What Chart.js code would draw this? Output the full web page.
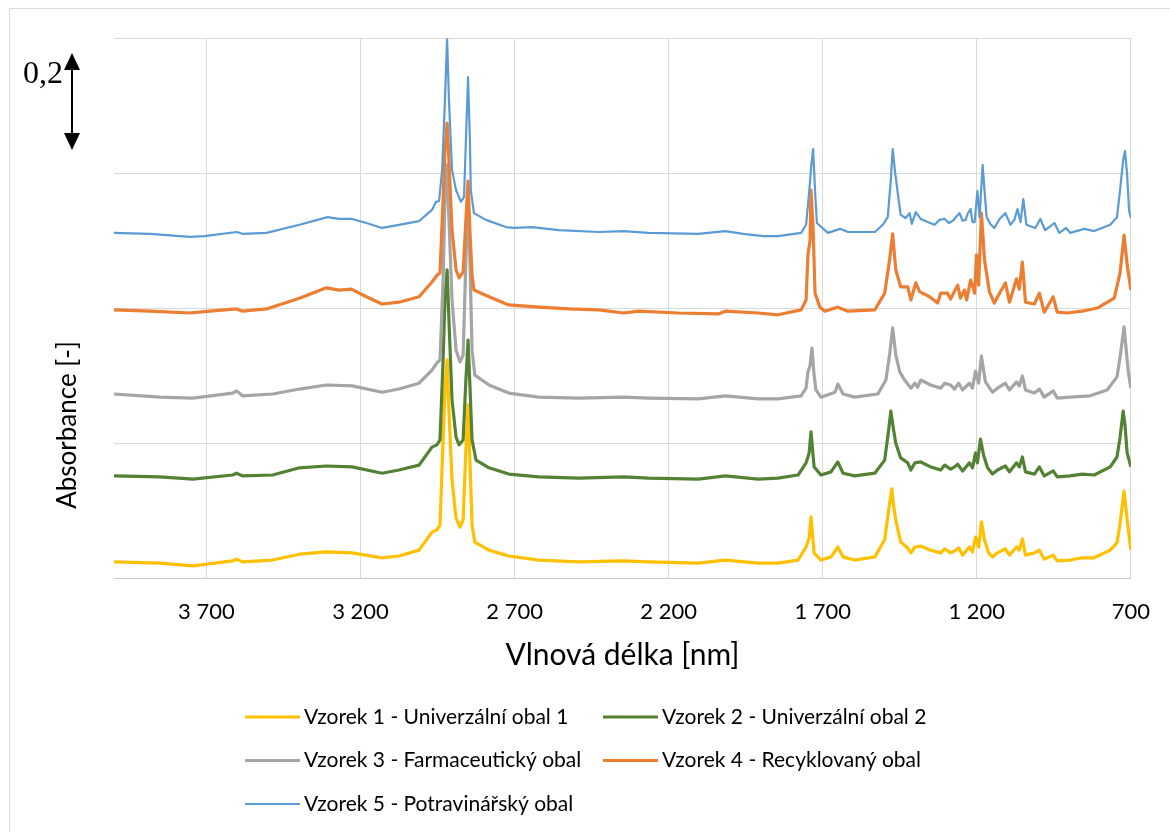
<!DOCTYPE html>
<html><head><meta charset="utf-8">
<script src="https://cdn.jsdelivr.net/npm/chart.js@4.4.1/dist/chart.umd.min.js"></script>
<style>
html,body{margin:0;padding:0;background:#fff;}
#wrap{position:relative;width:1170px;height:832px;overflow:hidden;background:#fff;}
#frame{position:absolute;left:9px;top:8px;width:1200px;height:900px;border:1px solid #D9D9D9;box-sizing:border-box;}
canvas{position:absolute;left:0;top:0;}
</style></head><body>
<div id="wrap"><div id="frame"></div><canvas id="c" width="1170" height="832"></canvas></div>
<script>
// ---- Data (wavenumber / absorbance) ----
const seriesLabels = [
  'Vzorek 1 - Univerzální obal 1',
  'Vzorek 2 - Univerzální obal 2',
  'Vzorek 3 - Farmaceutický obal',
  'Vzorek 4 - Recyklovaný obal',
  'Vzorek 5 - Potravinářský obal'
];
const seriesColors = ['#FFC000', '#548235', '#A5A5A5', '#ED7D31', '#5B9BD5'];

const xTickValues = [3700, 3200, 2700, 2200, 1700, 1200, 700];
const xTickLabels = ['3 700', '3 200', '2 700', '2 200', '1 700', '1 200', '700'];
const yGridValues = [0, 0.3, 0.6, 0.9, 1.2];
const xTitle = 'Vlnová délka [nm]';
const yTitle = 'Absorbance [-]';
const scaleNote = '0,2';

const vzorek1X = [4000,3851,3744,3615,3602,3583,3485,3398,3311,3227,3130,3075,3010,2968,2952,2942,2932,2926,2919,2913,2903,2890,2877,2867,2858,2851,2845,2838,2829,2783,2719,2621,2492,2346,2266,2104,2016,1910,1845,1780,1754,1744,1738,1728,1706,1673,1651,1634,1596,1531,1499,1486,1476,1470,1463,1447,1424,1414,1401,1382,1350,1317,1304,1285,1272,1259,1246,1224,1214,1204,1194,1185,1175,1162,1149,1133,1107,1094,1071,1062,1052,1042,1013,997,981,952,939,897,858,819,767,745,735,722,712,700];
const vzorek1Y = [0.037,0.034,0.028,0.039,0.043,0.037,0.041,0.054,0.059,0.057,0.046,0.050,0.063,0.103,0.108,0.119,0.308,0.419,0.486,0.374,0.219,0.134,0.114,0.130,0.286,0.386,0.263,0.119,0.081,0.063,0.050,0.041,0.037,0.039,0.037,0.034,0.041,0.034,0.034,0.041,0.070,0.090,0.137,0.057,0.041,0.048,0.070,0.048,0.041,0.048,0.086,0.152,0.199,0.163,0.130,0.081,0.068,0.057,0.070,0.072,0.063,0.057,0.066,0.057,0.061,0.068,0.052,0.070,0.059,0.092,0.070,0.126,0.086,0.057,0.048,0.057,0.066,0.052,0.070,0.063,0.088,0.052,0.057,0.063,0.043,0.052,0.039,0.041,0.046,0.046,0.063,0.079,0.123,0.194,0.130,0.063];

const vzorek2X = [4000,3851,3744,3615,3602,3583,3485,3398,3311,3227,3130,3075,3010,2968,2952,2942,2932,2926,2919,2913,2903,2890,2880,2867,2858,2851,2845,2838,2825,2783,2719,2621,2492,2346,2266,2104,2016,1910,1845,1780,1754,1744,1738,1728,1706,1673,1651,1634,1596,1531,1499,1486,1479,1470,1463,1447,1424,1414,1401,1382,1350,1317,1304,1285,1272,1262,1246,1224,1214,1204,1198,1188,1178,1165,1149,1133,1107,1094,1071,1062,1052,1042,1013,997,981,952,939,897,858,819,767,745,735,725,719,712,700];
const vzorek2Y = [0.228,0.226,0.221,0.230,0.234,0.228,0.230,0.246,0.250,0.248,0.234,0.241,0.252,0.292,0.297,0.308,0.486,0.619,0.686,0.574,0.397,0.314,0.297,0.308,0.441,0.530,0.430,0.308,0.263,0.246,0.232,0.226,0.223,0.226,0.223,0.221,0.228,0.221,0.223,0.230,0.257,0.279,0.326,0.248,0.230,0.237,0.259,0.234,0.228,0.234,0.263,0.330,0.372,0.330,0.301,0.268,0.257,0.241,0.257,0.259,0.248,0.241,0.252,0.243,0.248,0.254,0.239,0.257,0.246,0.279,0.257,0.310,0.274,0.246,0.232,0.241,0.250,0.237,0.257,0.248,0.270,0.237,0.232,0.248,0.228,0.239,0.226,0.228,0.232,0.230,0.248,0.270,0.314,0.372,0.341,0.279,0.248];

const vzorek3X = [4000,3851,3744,3615,3602,3583,3485,3398,3311,3227,3130,3075,3010,2968,2952,2942,2932,2926,2919,2913,2903,2890,2877,2867,2858,2851,2845,2838,2829,2783,2719,2621,2492,2346,2266,2104,2016,1910,1845,1770,1754,1748,1741,1735,1728,1722,1706,1660,1651,1634,1596,1521,1495,1483,1473,1463,1450,1434,1414,1401,1392,1382,1350,1317,1304,1285,1272,1259,1246,1224,1214,1204,1194,1185,1172,1149,1133,1107,1094,1071,1062,1052,1042,1013,997,981,952,939,897,832,777,745,735,722,709,700];
const vzorek3Y = [0.410,0.403,0.401,0.412,0.417,0.406,0.410,0.421,0.430,0.428,0.414,0.421,0.434,0.463,0.479,0.486,0.663,0.841,0.919,0.797,0.619,0.508,0.481,0.497,0.708,0.863,0.708,0.508,0.452,0.430,0.412,0.403,0.401,0.403,0.401,0.399,0.406,0.399,0.399,0.406,0.423,0.459,0.474,0.512,0.452,0.419,0.403,0.414,0.432,0.410,0.403,0.410,0.441,0.497,0.557,0.497,0.459,0.441,0.423,0.434,0.425,0.441,0.430,0.423,0.434,0.430,0.421,0.434,0.419,0.434,0.423,0.461,0.434,0.494,0.437,0.414,0.423,0.434,0.419,0.437,0.428,0.450,0.419,0.412,0.421,0.403,0.417,0.401,0.403,0.406,0.419,0.448,0.492,0.559,0.463,0.423];

const vzorek4X = [4000,3883,3754,3689,3602,3583,3505,3398,3311,3269,3230,3181,3130,3075,3010,2968,2952,2942,2932,2926,2919,2913,2903,2890,2880,2867,2858,2851,2845,2838,2832,2783,2719,2621,2524,2427,2346,2298,2168,2039,2016,1910,1845,1770,1754,1748,1741,1738,1731,1725,1709,1693,1651,1618,1531,1499,1483,1473,1463,1447,1424,1414,1398,1385,1353,1327,1317,1295,1285,1262,1253,1240,1233,1220,1207,1201,1194,1185,1175,1159,1143,1126,1107,1094,1071,1062,1052,1042,1013,997,981,952,939,906,858,809,754,735,722,712,700];
const vzorek4Y = [0.597,0.594,0.590,0.594,0.599,0.594,0.599,0.623,0.646,0.641,0.643,0.626,0.610,0.614,0.626,0.659,0.674,0.679,0.841,0.952,1.012,0.930,0.774,0.686,0.668,0.681,0.797,0.883,0.774,0.674,0.641,0.626,0.608,0.603,0.599,0.597,0.590,0.594,0.590,0.588,0.594,0.590,0.586,0.597,0.619,0.719,0.752,0.863,0.774,0.634,0.603,0.594,0.603,0.594,0.597,0.634,0.708,0.766,0.686,0.648,0.648,0.619,0.657,0.637,0.626,0.612,0.634,0.634,0.621,0.652,0.623,0.641,0.619,0.663,0.634,0.719,0.652,0.812,0.708,0.637,0.612,0.634,0.657,0.614,0.666,0.643,0.703,0.614,0.610,0.634,0.592,0.626,0.592,0.590,0.594,0.601,0.623,0.679,0.763,0.697,0.641];

const vzorek5X = [4000,3883,3754,3706,3602,3583,3505,3398,3307,3269,3227,3181,3130,3075,3010,2968,2955,2945,2935,2926,2919,2913,2903,2890,2874,2864,2858,2851,2845,2842,2832,2793,2728,2702,2644,2557,2427,2346,2266,2104,2016,1958,1893,1845,1770,1754,1744,1737,1731,1725,1719,1683,1644,1618,1531,1505,1489,1479,1473,1466,1457,1447,1431,1418,1411,1398,1382,1359,1337,1321,1304,1291,1278,1256,1246,1236,1230,1220,1214,1207,1198,1191,1181,1175,1168,1156,1143,1126,1107,1091,1078,1068,1058,1049,1039,1010,994,978,948,932,910,897,851,819,767,745,735,725,719,712,706,700];
const vzorek5Y = [0.768,0.766,0.759,0.761,0.770,0.766,0.768,0.786,0.803,0.799,0.799,0.790,0.779,0.786,0.794,0.819,0.837,0.839,0.908,1.063,1.200,1.063,0.908,0.863,0.837,0.848,0.974,1.114,0.974,0.863,0.812,0.797,0.781,0.779,0.781,0.774,0.770,0.772,0.768,0.766,0.772,0.766,0.761,0.761,0.768,0.786,0.859,0.919,0.954,0.863,0.790,0.768,0.777,0.770,0.770,0.786,0.803,0.886,0.954,0.908,0.859,0.808,0.801,0.812,0.788,0.814,0.799,0.792,0.786,0.797,0.799,0.790,0.795,0.812,0.795,0.797,0.810,0.821,0.792,0.792,0.861,0.803,0.919,0.863,0.803,0.788,0.779,0.799,0.812,0.786,0.797,0.821,0.792,0.843,0.786,0.779,0.799,0.774,0.790,0.768,0.779,0.768,0.777,0.772,0.786,0.803,0.863,0.930,0.950,0.897,0.819,0.801];

const seriesX = [vzorek1X, vzorek2X, vzorek3X, vzorek4X, vzorek5X];
const seriesY = [vzorek1Y, vzorek2Y, vzorek3Y, vzorek4Y, vzorek5Y];
const seriesWidths = [3.2, 3.2, 3.2, 3.2, 2.2];

function toPoints(xs, ys) {
  const n = Math.min(xs.length, ys.length);
  const pts = [];
  for (let i = 0; i < n; i++) pts.push({x: xs[i], y: ys[i]});
  return pts;
}

const FONT = 'Lato';

const extras = {
  id: 'extras',
  afterDraw(chart) {
    const ctx = chart.ctx;
    // y axis title
    ctx.save();
    ctx.translate(68, 425);
    ctx.rotate(-Math.PI / 2);
    ctx.font = '26px ' + FONT;
    ctx.fillStyle = '#000';
    ctx.textAlign = 'center';
    ctx.textBaseline = 'middle';
    ctx.fillText(yTitle, 0, 0);
    ctx.restore();

    // scale note "0,2" with double arrow
    ctx.save();
    ctx.font = '32px "Liberation Serif"';
    ctx.fillStyle = '#000';
    ctx.textAlign = 'right';
    ctx.textBaseline = 'alphabetic';
    ctx.fillText(scaleNote, 63, 83);
    ctx.strokeStyle = '#000';
    ctx.lineWidth = 2;
    ctx.beginPath();
    ctx.moveTo(72, 66); ctx.lineTo(72, 137);
    ctx.stroke();
    ctx.beginPath();
    ctx.moveTo(72, 53); ctx.lineTo(64, 70); ctx.lineTo(80, 70); ctx.closePath(); ctx.fill();
    ctx.beginPath();
    ctx.moveTo(72, 150); ctx.lineTo(64, 133); ctx.lineTo(80, 133); ctx.closePath(); ctx.fill();
    ctx.restore();

    // legend
    ctx.save();
    ctx.font = '21px ' + FONT;
    ctx.textAlign = 'left';
    ctx.textBaseline = 'middle';
    chart.data.datasets.forEach((ds, i) => {
      const row = Math.floor(i / 2), col = i % 2;
      const x0 = col ? 603 : 245;
      const yc = 717 + row * 43.5;
      ctx.strokeStyle = ds.borderColor;
      ctx.lineWidth = ds.borderWidth;
      ctx.beginPath();
      ctx.moveTo(x0, yc); ctx.lineTo(x0 + 55, yc);
      ctx.stroke();
      ctx.fillStyle = '#000';
      ctx.fillText(ds.label, x0 + 59, yc);
    });
    ctx.restore();
  }
};

function build() {
  const datasets = seriesLabels.map((lab, i) => ({
    label: lab,
    data: toPoints(seriesX[i], seriesY[i]),
    borderColor: seriesColors[i],
    backgroundColor: seriesColors[i],
    borderWidth: seriesWidths[i],
    pointRadius: 0,
    pointHoverRadius: 0,
    tension: 0,
    fill: false,
    borderJoinStyle: 'round',
    order: seriesLabels.length - i
  }));

  new Chart(document.getElementById('c'), {
    type: 'line',
    data: { datasets },
    options: {
      responsive: false,
      animation: false,
      devicePixelRatio: 1,
      layout: { padding: { left: 0, right: 37, top: 38.5, bottom: 0 } },
      plugins: { legend: { display: false }, tooltip: { enabled: false } },
      scales: {
        x: {
          type: 'linear',
          reverse: true,
          min: 700,
          max: 4000,
          afterBuildTicks: (s) => { s.ticks = xTickValues.map(v => ({ value: v })); },
          afterFit: (s) => { s.height = 253.5; },
          grid: { color: '#D9D9D9', lineWidth: 1, drawTicks: false },
          border: { display: true, color: '#C8C8C8', width: 1 },
          ticks: {
            autoSkip: false, maxRotation: 0, padding: 20, color: '#000',
            font: { family: FONT, size: 22 },
            callback: (v) => { const k = xTickValues.indexOf(v); return k >= 0 ? xTickLabels[k] : ''; }
          },
          title: { display: true, text: xTitle, color: '#000', font: { family: FONT, size: 30 }, padding: { top: 0, bottom: 159 } }
        },
        y: {
          min: 0,
          max: 1.2,
          afterBuildTicks: (s) => { s.ticks = yGridValues.map(v => ({ value: v })); },
          afterFit: (s) => { s.width = 114; },
          grid: { color: '#D9D9D9', lineWidth: 1, drawTicks: false },
          border: { display: false },
          ticks: { display: false }
        }
      }
    },
    plugins: [extras]
  });
}

const fontLoads = [
  document.fonts.load('20px Lato'),
  document.fonts.load('32px "Liberation Serif"')
];
Promise.all(fontLoads).then(build, build);
</script>
</body></html>
